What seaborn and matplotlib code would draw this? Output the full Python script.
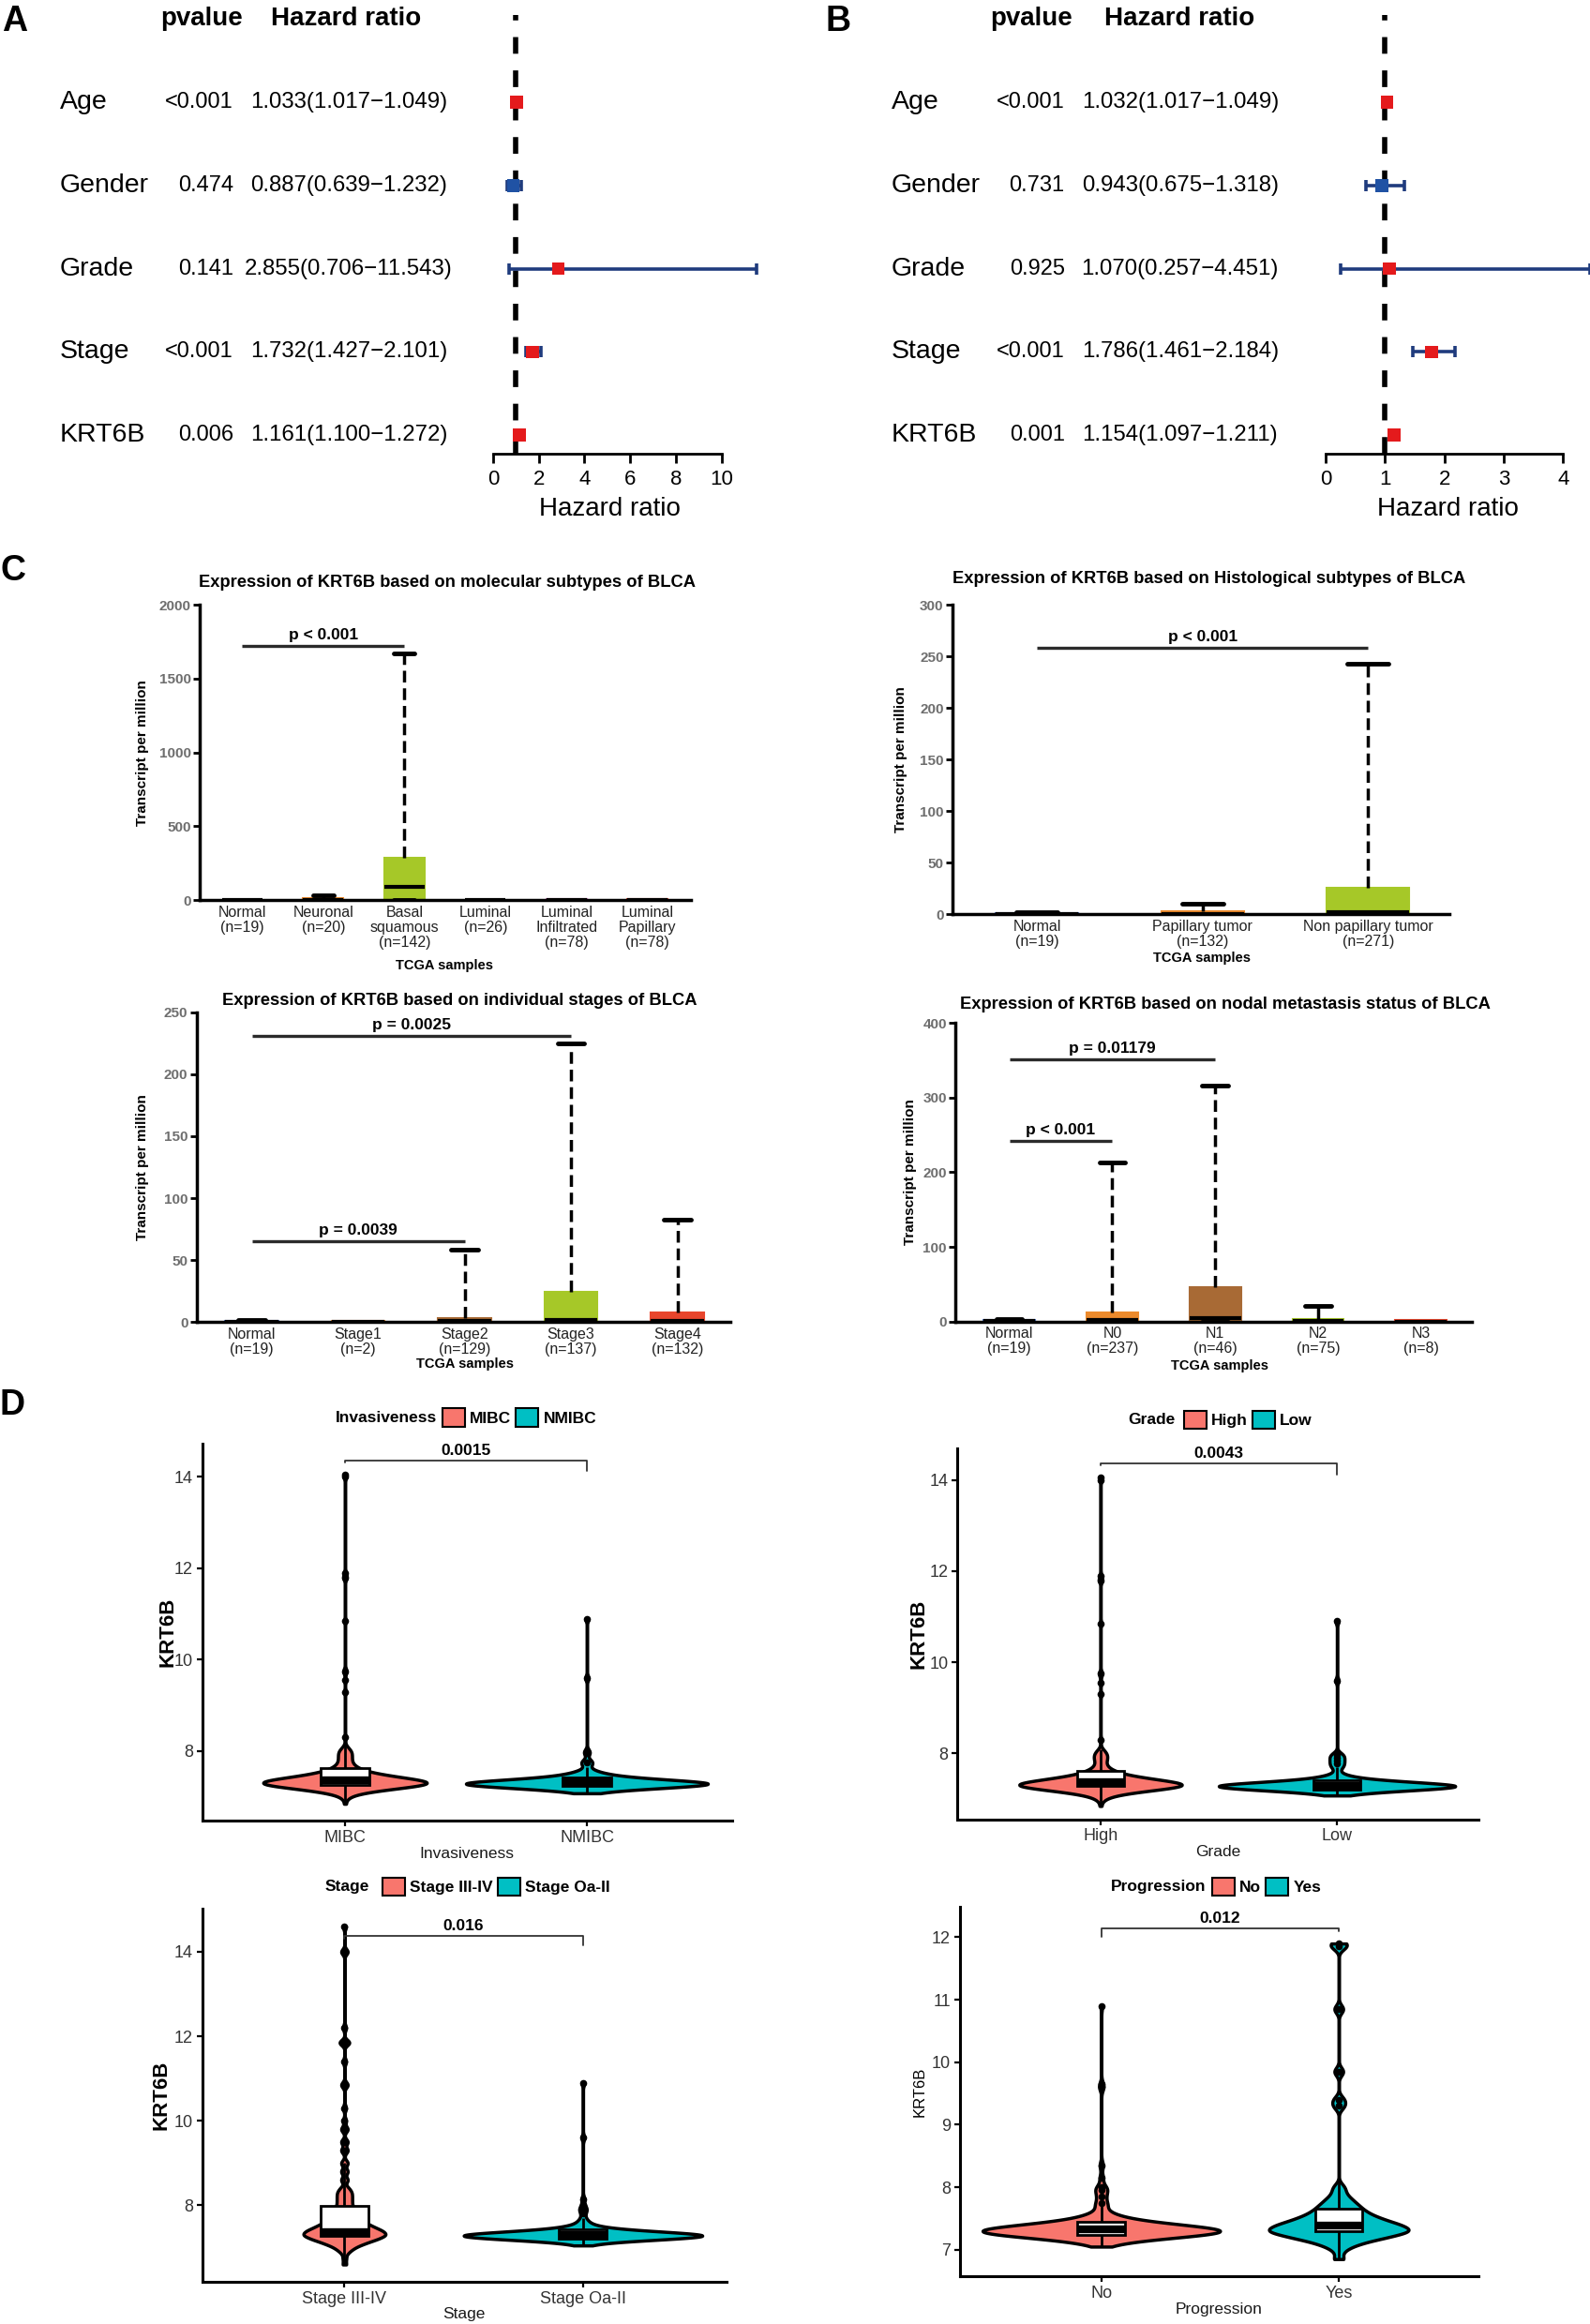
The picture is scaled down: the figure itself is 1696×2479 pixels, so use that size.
import numpy as np
import pandas as pd
import matplotlib
matplotlib.use("Agg")
import matplotlib.pyplot as plt
import matplotlib.transforms as mtransforms
from matplotlib.patches import Patch
import seaborn as sns

# ---------------- data ----------------
# A / B  univariate and multivariate Cox regression
cox_vars = ["Age", "Gender", "Grade", "Stage", "KRT6B"]
uni_p = ["<0.001", "0.474", "0.141", "<0.001", "0.006"]
uni_hr = [1.033, 0.887, 2.855, 1.732, 1.161]
uni_lo = [1.017, 0.639, 0.706, 1.427, 1.100]
uni_hi = [1.049, 1.232, 11.543, 2.101, 1.272]
multi_p = ["<0.001", "0.731", "0.925", "<0.001", "0.001"]
multi_hr = [1.032, 0.943, 1.070, 1.786, 1.154]
multi_lo = [1.017, 0.675, 0.257, 1.461, 1.097]
multi_hi = [1.049, 1.318, 4.451, 2.184, 1.211]

# C  UALCAN boxes: min, q1, median, q3, max (TPM)
mol_groups = ["Normal\n(n=19)", "Neuronal\n(n=20)", "Basal\nsquamous\n(n=142)", "Luminal\n(n=26)",
              "Luminal\nInfiltrated\n(n=78)", "Luminal\nPapillary\n(n=78)"]
mol_stats = [[0, 0, 0, 4, 4], [0, 0, 3, 12, 32], [0, 2, 91, 285, 1671],
             [0, 0, 0, 5, 5], [0, 0, 0, 6, 6], [0, 0, 0, 7, 7]]
his_groups = ["Normal\n(n=19)", "Papillary tumor\n(n=132)", "Non papillary tumor\n(n=271)"]
his_stats = [[0, 0, 0.5, 1.0, 1.8], [0, 0, 0.8, 3, 10.3], [0, 0.3, 2, 25.8, 242.6]]
stg_groups = ["Normal\n(n=19)", "Stage1\n(n=2)", "Stage2\n(n=129)", "Stage3\n(n=137)", "Stage4\n(n=132)"]
stg_stats = [[0, 0, 0.5, 1, 1.5], [0, 0, 0, 0.8, 0.8], [0, 0, 0.8, 2.9, 58.6],
             [0, 0, 1.5, 24.6, 224.8], [0, 0, 0.8, 7.5, 82.5]]
nod_groups = ["Normal\n(n=19)", "N0\n(n=237)", "N1\n(n=46)", "N2\n(n=75)", "N3\n(n=8)"]
nod_stats = [[0, 0, 1, 2.5, 3.5], [0, 0, 2.5, 12.5, 213.7], [0, 0.5, 4.6, 46, 316.6],
             [0, 0, 1, 3.5, 21.3], [0, 0, 0, 1.5, 1.5]]

# D  KRT6B expression, values with sample counts
mibc_v = [6.85, 6.95, 7.00, 7.05, 7.10, 7.15, 7.20, 7.25, 7.30, 7.35, 7.40, 7.45, 7.50, 7.55, 7.60, 7.65,
          7.70, 7.75, 7.80, 7.85, 7.90, 7.95, 8.00, 8.05, 8.10, 8.30, 9.30, 9.55, 9.75, 10.85, 11.80, 11.90,
          14.00, 14.05]
mibc_n = [1, 1, 2, 4, 9, 16, 25, 34, 40, 36, 29, 21, 15, 10, 7, 5, 4, 3, 3, 3, 3, 3, 3, 2, 1, 1, 1, 1, 2, 1,
          2, 1, 1, 1]
nmibc_v = [7.08, 7.12, 7.16, 7.20, 7.24, 7.28, 7.32, 7.36, 7.40, 7.44, 7.48, 7.52, 7.56, 7.62, 7.70, 7.75,
           7.80, 7.95, 8.00, 9.60, 10.90]
nmibc_n = [1, 3, 7, 13, 21, 27, 24, 16, 10, 6, 4, 3, 2, 1, 1, 2, 1, 1, 1, 1, 1]
high_v = mibc_v
high_n = [1, 1, 2, 4, 8, 15, 24, 33, 41, 37, 30, 22, 15, 10, 7, 5, 3, 3, 2, 3, 3, 3, 3, 2, 1, 1, 1, 1, 2, 1,
          2, 1, 1, 1]
low_v = [7.08, 7.12, 7.16, 7.20, 7.24, 7.28, 7.32, 7.36, 7.40, 7.44, 7.48, 7.52, 7.58, 7.66, 7.72, 7.78,
         7.84, 7.90, 7.96, 8.00, 9.60, 10.90]
low_n = [1, 3, 7, 14, 22, 28, 24, 15, 9, 5, 3, 2, 1, 1, 2, 2, 2, 2, 2, 1, 1, 1]
late_v = [6.60, 6.75, 6.90, 7.00, 7.10, 7.20, 7.30, 7.40, 7.50, 7.60, 7.70, 7.80, 7.90, 8.00, 8.10, 8.20,
          8.30, 8.40, 8.60, 8.80, 9.00, 9.30, 9.50, 9.80, 10.00, 10.30, 10.85, 11.40, 11.85, 12.20, 14.00,
          14.60]
late_n = [1, 1, 2, 4, 8, 13, 17, 15, 11, 8, 6, 5, 4, 3, 3, 3, 3, 2, 2, 2, 2, 2, 2, 2, 1, 1, 2, 1, 3, 1, 2, 1]
early_v = [7.05, 7.10, 7.14, 7.18, 7.22, 7.26, 7.30, 7.34, 7.38, 7.42, 7.46, 7.50, 7.55, 7.62, 7.70, 7.80,
           7.90, 8.00, 8.15, 9.60, 10.90]
early_n = [1, 2, 5, 11, 19, 26, 27, 19, 12, 7, 4, 3, 2, 2, 1, 1, 2, 1, 1, 1, 1]
no_v = [7.05, 7.10, 7.15, 7.20, 7.25, 7.30, 7.35, 7.40, 7.45, 7.50, 7.55, 7.60, 7.70, 7.75, 7.85, 7.95,
        8.00, 8.15, 8.35, 9.60, 9.65, 10.90]
no_n = [2, 6, 14, 30, 48, 58, 46, 30, 18, 10, 6, 4, 4, 3, 4, 4, 3, 2, 2, 2, 1, 1]
yes_v = [6.85, 7.00, 7.10, 7.20, 7.30, 7.40, 7.50, 7.60, 7.70, 7.80, 7.90, 8.00, 9.30, 9.40, 9.85, 10.85,
         11.85, 11.90]
yes_n = [1, 1, 3, 7, 11, 9, 6, 4, 3, 2, 1, 1, 1, 1, 1, 1, 1, 1]

# box: lower whisker, q1, median, q3, upper whisker ; outliers drawn as dots
inv_box = [[6.85, 7.27, 7.36, 7.64, 8.15], [7.08, 7.24, 7.33, 7.42, 7.65]]
inv_out = [[8.3, 9.3, 9.55, 9.75, 10.85, 11.8, 11.9, 14.0, 14.05], [7.75, 7.95, 8.0, 9.6, 10.9]]
grd_box = [[6.85, 7.28, 7.38, 7.62, 8.1], [7.08, 7.21, 7.30, 7.42, 7.7]]
grd_out = [[8.3, 9.3, 9.55, 9.75, 10.85, 11.8, 11.9, 14.0, 14.05], [7.78, 7.84, 7.9, 7.96, 8.0, 9.6, 10.9]]
stg2_box = [[6.6, 7.27, 7.36, 7.98, 9.0], [7.05, 7.22, 7.30, 7.43, 7.7]]
stg2_out = [[9.3, 9.5, 9.8, 10.0, 10.3, 10.85, 11.4, 11.85, 12.2, 14.0, 14.6], [7.8, 7.9, 8.0, 8.15, 9.6, 10.9]]
prg_box = [[7.05, 7.24, 7.33, 7.44, 7.7], [6.85, 7.30, 7.38, 7.66, 8.1]]
prg_out = [[7.75, 7.85, 7.95, 8.0, 8.15, 8.35, 9.6, 9.65, 10.9], [9.3, 9.4, 9.85, 10.85, 11.85, 11.9]]

# ---------------- style ----------------
sns.set_style("ticks")
plt.rcParams["font.family"] = ["Liberation Sans", "DejaVu Sans"]
plt.rcParams.update({"text.color": "black", "axes.edgecolor": "black", "xtick.color": "black",
                     "ytick.color": "black", "axes.labelcolor": "black"})

W, H = 1073.0, 1568.0   # layout measured on the reduced reference


def rect(x0, y0, x1, y1):
    return [x0 / W, 1 - y1 / H, (x1 - x0) / W, (y1 - y0) / H]


def fx(x):
    return x / W


def fy(y):
    return 1 - y / H


fig = plt.figure(figsize=(16.96, 24.79), dpi=100)

RED, BLUE, NAVY = "#e41a1c", "#2052a4", "#1f3b7d"


def forest(ax_px, xlim, xticks, hr, lo, hi, pvals, lab_x, p_right, hr_x, head_p_x, head_hr_x, xlab_x):
    ax = fig.add_axes(rect(*ax_px))
    rows = np.arange(len(cox_vars))
    hr, lo, hi = np.array(hr), np.array(lo), np.array(hi)
    ax.axvline(1, color="black", lw=4, ls=(0, (3.2, 3.2)), zorder=1)
    ax.errorbar(hr, rows, xerr=[hr - lo, hi - hr], fmt="none", ecolor=NAVY, elinewidth=2.6,
                capsize=4.5, capthick=2.6, zorder=2)
    dirn = ["up" if h > 1 else "down" for h in hr]
    sns.scatterplot(x=hr, y=rows, hue=dirn, palette={"up": RED, "down": BLUE}, marker="s", s=95,
                    linewidth=0, legend=False, zorder=3, ax=ax)
    ax.set_xlim(*xlim)
    ax.set_ylim(4.22, -1.05)
    for s in ("left", "top", "right"):
        ax.spines[s].set_visible(False)
    ax.spines["bottom"].set_bounds(xticks[0], xticks[-1])
    ax.spines["bottom"].set_linewidth(2)
    ax.set_yticks([])
    ax.set_xticks(xticks)
    ax.tick_params(axis="x", length=7.5, width=2, labelsize=16, pad=5)
    for art in ax.lines + ax.collections:
        art.set_clip_on(False)
    tr = mtransforms.blended_transform_factory(fig.transFigure, ax.transData)
    for r, (name, p, h, l, u) in enumerate(zip(cox_vars, pvals, hr, lo, hi)):
        ax.text(fx(lab_x), r, name, transform=tr, ha="left", va="center", fontsize=20.5)
        ax.text(fx(p_right), r, p, transform=tr, ha="right", va="center", fontsize=17)
        ax.text(fx(hr_x), r, f"{h:.3f}({l:.3f}\u2212{u:.3f})", transform=tr, ha="center",
                va="center", fontsize=17.3)
    fig.text(fx(head_p_x), fy(12.4), "pvalue", ha="center", va="center", fontsize=20, fontweight="bold")
    fig.text(fx(head_hr_x), fy(12.4), "Hazard ratio", ha="center", va="center", fontsize=20,
             fontweight="bold")
    fig.text(fx(xlab_x), fy(343.5), "Hazard ratio", ha="center", va="center", fontsize=20)


forest((332.7, 10, 520, 306), (0, 12.14), [0, 2, 4, 6, 8, 10], uni_hr, uni_lo, uni_hi, uni_p,
       40.5, 157.5, 235.4, 136.3, 233.4, 411.5)
forest((894.6, 10, 1073, 306), (0, 4.45), [0, 1, 2, 3, 4], multi_hr, multi_lo, multi_hi, multi_p,
       601.6, 718.5, 796.4, 695.8, 796.0, 977.0)

C_BLUE, C_ORANGE, C_GREEN = "#4a6fc0", "#ec8a2c", "#a6c828"
C_BROWN, C_RED, C_PINK, C_TAN = "#a86a35", "#e8452c", "#d46fc4", "#d49468"


def tcga_panel(ax_px, groups, stats, colors, ytop, yticks, xlim, title, title_xy, pbars, ylab_x, tcga_xy):
    ax = fig.add_axes(rect(*ax_px))
    df = pd.DataFrame([(g, v) for g, s in zip(groups, stats) for v in s], columns=["group", "tpm"])
    sns.boxplot(data=df, x="group", y="tpm", hue="group", order=groups, hue_order=groups,
                palette=colors, legend=False, whis=(0, 100), width=0.5, saturation=1,
                linecolor="black", linewidth=2.5, showfliers=False,
                boxprops=dict(linewidth=1.5),
                whiskerprops=dict(linestyle=(0, (3.6, 1.8)), linewidth=2.5),
                capprops=dict(linewidth=3.5), medianprops=dict(linewidth=3), ax=ax)
    # colour box outlines like their fill, drop caps on zero-length whiskers
    for p in ax.patches:
        p.set_edgecolor(p.get_facecolor())
    for cont in ax.containers:
        for w, c in zip(getattr(cont, "whiskers", []), getattr(cont, "caps", [])):
            yw = w.get_ydata()
            if abs(yw[1] - yw[0]) < 1e-9:
                c.set_visible(False)
    ax.set_xlim(*xlim)
    ax.set_ylim(0, ytop)
    sns.despine(ax=ax)
    for s in ("left", "bottom"):
        ax.spines[s].set_linewidth(2.5)
    ax.set_yticks(yticks)
    ax.set_xticks(range(len(groups)))
    ax.set_xticklabels(groups, fontsize=11.5, color="#222222", linespacing=1.1)
    ax.tick_params(axis="x", length=0, pad=4)
    ax.tick_params(axis="y", length=5, width=2, labelsize=11, labelcolor="#6e6e6e", pad=2)
    for t in ax.get_yticklabels():
        t.set_fontweight("bold")
    ax.set_xlabel("")
    ax.set_ylabel("")
    for i, j, yv, txt in pbars:
        ax.plot([i, j], [yv, yv], color="#2b2b2b", lw=2.4, solid_capstyle="butt")
        ax.annotate(txt, xy=((i + j) / 2, yv), xytext=(0, 3), textcoords="offset points",
                    ha="center", va="bottom", fontsize=12.5, fontweight="bold")
    fig.text(fx(title_xy[0]), fy(title_xy[1]), title, ha="center", va="center", fontsize=13.2,
             fontweight="bold")
    fig.text(fx(ylab_x), fy((ax_px[1] + ax_px[3]) / 2), "Transcript per million", rotation=90,
             ha="center", va="center", fontsize=11, fontweight="bold")
    fig.text(fx(tcga_xy[0]), fy(tcga_xy[1]), "TCGA samples", ha="center", va="center", fontsize=10.5,
             fontweight="bold")


tcga_panel((135, 408, 466, 607.4), mol_groups, mol_stats,
           [C_BLUE, C_ORANGE, C_GREEN, C_TAN, C_PINK, C_RED], 2000, range(0, 2001, 500), (-0.52, 5.53),
           "Expression of KRT6B based on molecular subtypes of BLCA", (302, 393),
           [(0, 2, 1719, "p < 0.001")], 96, (300, 651.7))
tcga_panel((643, 408, 978, 617), his_groups, his_stats, [C_BLUE, C_ORANGE, C_GREEN], 300,
           range(0, 301, 50), (-0.51, 2.49),
           "Expression of KRT6B based on Histological subtypes of BLCA", (816, 390.8),
           [(0, 2, 258, "p < 0.001")], 607.8, (811, 646.4))
tcga_panel((133, 682.9, 493, 892), stg_groups, stg_stats, [C_BLUE, C_ORANGE, C_BROWN, C_GREEN, C_RED],
           250, range(0, 251, 50), (-0.515, 4.5),
           "Expression of KRT6B based on individual stages of BLCA", (310, 675),
           [(0, 3, 230.9, "p = 0.0025"), (0, 2, 65, "p = 0.0039")], 96, (314, 920.5))
tcga_panel((645, 690.2, 993, 891.6), nod_groups, nod_stats, [C_BLUE, C_ORANGE, C_BROWN, C_GREEN, C_RED],
           400, range(0, 401, 100), (-0.52, 4.49),
           "Expression of KRT6B based on nodal metastasis status of BLCA", (826.6, 678),
           [(0, 2, 351, "p = 0.01179"), (0, 1, 241.6, "p < 0.001")], 614.6, (822.8, 921.6))

PINK, TEAL = "#F8766D", "#00BFC4"


def fixed_bw(h):
    return lambda k: h / k.dataset.std(ddof=1)


def violin_panel(ax_px, groups, vals, counts, box_stats, outliers, bw, ylim, yticks, xlim,
                 leg_title, leg_title_right, leg_left, leg_y, pval, br_y, br_tips,
                 xlab, xlab_xy, ylab_x, ylab_bold):
    ax = fig.add_axes(rect(*ax_px))
    vdf = pd.DataFrame({
        "group": np.repeat(groups, [sum(c) for c in counts]),
        "KRT6B": np.concatenate([np.repeat(v, c) for v, c in zip(vals, counts)]),
    })
    sns.violinplot(data=vdf, x="group", y="KRT6B", hue="group", order=groups, hue_order=groups,
                   palette=[PINK, TEAL], saturation=1, legend=False, inner=None, cut=0, width=1.0,
                   gridsize=600, bw_method=fixed_bw(bw), density_norm="area", common_norm=True,
                   linewidth=2.5, linecolor="black", ax=ax)
    bdf = pd.DataFrame([(g, v) for g, s in zip(groups, box_stats) for v in s], columns=["group", "KRT6B"])
    sns.boxplot(data=bdf, x="group", y="KRT6B", order=groups, color="white", saturation=1,
                whis=(0, 100), width=0.2, showcaps=False, showfliers=False, linecolor="black",
                linewidth=2, medianprops=dict(linewidth=6), ax=ax)
    odf = pd.DataFrame([(g, v) for g, o in zip(groups, outliers) for v in o], columns=["group", "KRT6B"])
    sns.stripplot(data=odf, x="group", y="KRT6B", order=groups, jitter=False, color="black", size=5.5,
                  zorder=4, ax=ax)
    ax.set_xlim(*xlim)
    ax.set_ylim(*ylim)
    sns.despine(ax=ax)
    for s in ("left", "bottom"):
        ax.spines[s].set_linewidth(2.2)
    ax.set_yticks(yticks)
    ax.tick_params(length=4, width=1.6, labelsize=13, labelcolor="#333333", pad=3)
    ax.set_xlabel("")
    ax.set_ylabel("")
    ax.plot([0, 0, 1, 1], [br_y - br_tips[0], br_y, br_y, br_y - br_tips[1]], color="#333333", lw=1.3,
            clip_on=False)
    ax.annotate(pval, xy=(0.5, br_y), xytext=(0, 2), textcoords="offset points", ha="center",
                va="bottom", fontsize=12.5, fontweight="bold")
    handles = [Patch(facecolor=c, edgecolor="black", linewidth=1.5) for c in (PINK, TEAL)]
    fig.text(fx(leg_title_right), fy(leg_y), leg_title, ha="right", va="center", fontsize=12.5,
             fontweight="bold")
    ax.legend(handles, groups, loc="center left", bbox_to_anchor=(fx(leg_left), fy(leg_y)),
              bbox_transform=fig.transFigure, ncol=2, frameon=False, borderpad=0, borderaxespad=0,
              handlelength=1.38, handleheight=1.35, handletextpad=0.3, columnspacing=0.3,
              prop=dict(weight="bold", size=12.5))
    fig.text(fx(xlab_xy[0]), fy(xlab_xy[1]), xlab, ha="center", va="center", fontsize=12.5,
             color="#1a1a1a")
    fig.text(fx(ylab_x), fy((ax_px[1] + ax_px[3]) / 2), "KRT6B", rotation=90, ha="center", va="center",
             fontsize=16 if ylab_bold else 12, fontweight="bold" if ylab_bold else "normal")


violin_panel((136.5, 974, 494, 1228.4), ["MIBC", "NMIBC"], [mibc_v, nmibc_v], [mibc_n, nmibc_n],
             inv_box, inv_out, 0.06, (6.48, 14.73), [8, 10, 12, 14], (-0.59, 1.6),
             "Invasiveness", 295, 298.6, 956.5, "0.0015", 14.36, (0.05, 0.22),
             "Invasiveness", (315, 1251), 113, True)
violin_panel((646, 977.5, 998, 1227.4), ["High", "Low"], [high_v, low_v], [high_n, low_n],
             grd_box, grd_out, 0.06, (6.56, 14.68), [8, 10, 12, 14], (-0.606, 1.6),
             "Grade", 793, 799, 958, "0.0043", 14.36, (0.05, 0.25),
             "Grade", (822, 1249.5), 620, True)
violin_panel((136.5, 1287.5, 490, 1539.5), ["Stage III-IV", "Stage Oa-II"], [late_v, early_v],
             [late_n, early_n], stg2_box, stg2_out, 0.065, (6.19, 15.03), [8, 10, 12, 14], (-0.596, 1.6),
             "Stage", 249.4, 258, 1273, "0.016", 14.37, (0.05, 0.22),
             "Stage", (313, 1561.6), 109, True)
violin_panel((647.7, 1286.4, 998, 1536), ["No", "Yes"], [no_v, yes_v], [no_n, yes_n],
             prg_box, prg_out, 0.065, (6.57, 12.49), [7, 8, 9, 10, 11, 12], (-0.596, 1.59),
             "Progression", 814, 818, 1273, "0.012", 12.14, (0.14, 0.05),
             "Progression", (822.8, 1558), 621, False)

for letter, (lx, ly) in {"A": (1, 3), "B": (557, 3), "C": (0, 374), "D": (0, 937)}.items():
    fig.text(fx(lx), fy(ly), letter, ha="left", va="top", fontsize=27, fontweight="bold")

fig.savefig("out.png", dpi=100)
